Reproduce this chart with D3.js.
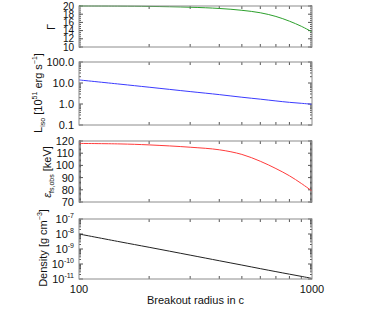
<!DOCTYPE html>
<html>
<head>
<meta charset="utf-8">
<script src="https://cdn.jsdelivr.net/npm/d3@7"></script>
<style>
body { margin: 0; background: #fff; }
text { font-family: "Liberation Sans", Arial, sans-serif; fill: #111; }
.frame { fill: none; stroke: #8c8c8c; stroke-width: 1; }
.tick { stroke: #555; stroke-width: 1; }
</style>
</head>
<body>
<div id="chart"></div>
<script>
var width = 391, height = 313;

// breakout radius (in c)
var radius = [100, 150, 200, 300, 400, 500, 600, 700, 800, 900, 1000];
var gammaVals = [20, 19.97, 19.9, 19.7, 19.4, 18.95, 18.35, 17.45, 16.3, 15.05, 13.7];
var lisoVals = [14, 8.8, 6.3, 3.9, 2.8, 2.1, 1.7, 1.4, 1.2, 1.08, 0.97];
var epsVals = [118, 117.6, 116.8, 114.9, 112.8, 109, 103.4, 97.4, 91.5, 85.2, 79];
var densVals = [1.0e-8, 3.0e-9, 1.3e-9, 3.9e-10, 1.65e-10, 8.5e-11, 4.9e-11, 3.1e-11, 2.1e-11, 1.5e-11, 1.1e-11];

var xTickLabels = [100, 1000];

var svg = d3.select("#chart").append("svg")
    .attr("width", width)
    .attr("height", height);

var x0 = 79, x1 = 312;
var x = d3.scaleLog().domain([100, 1000]).range([x0, x1]);

var panels = [
    {top: 6, bottom: 47, type: "lin", domain: [10, 20], major: d3.range(10, 21, 2), minor: d3.range(10, 20.01, 0.5),
     fmt: d3.format("d"), fs: 10, vals: gammaVals, color: "#2ca02c"},
    {top: 62, bottom: 125, type: "log", domain: [0.1, 100], major: [0.1, 1, 10, 100], fmt: d3.format(".1f"),
     fs: 11, vals: lisoVals, color: "#3b3bff"},
    {top: 141, bottom: 202, type: "lin", domain: [70, 120], major: d3.range(70, 121, 10), minor: d3.range(70, 120.01, 1),
     fmt: d3.format("d"), fs: 11, vals: epsVals, color: "#ff3b3b"},
    {top: 219, bottom: 279, type: "log", domain: [1e-11, 1e-7], major: [1e-11, 1e-10, 1e-9, 1e-8, 1e-7], fmt: null,
     fs: 11, vals: densVals, color: "#222"}
];

function logMinors(domain) {
    var out = [];
    var lo = Math.round(Math.log10(domain[0])), hi = Math.round(Math.log10(domain[1]));
    for (var e = lo; e < hi; e++) {
        for (var m = 2; m <= 9; m++) out.push(m * Math.pow(10, e));
    }
    return out;
}

var xMinor = [200, 300, 400, 500, 600, 700, 800, 900];

panels.forEach(function(p, i) {
    var y = (p.type == "log" ? d3.scaleLog() : d3.scaleLinear())
        .domain(p.domain).range([p.bottom, p.top]);
    var minor = p.type == "log" ? logMinors(p.domain) : p.minor;
    var g = svg.append("g");

    // y ticks, both sides, pointing inward
    minor.forEach(function(v) {
        g.append("line").attr("class", "tick")
            .attr("x1", x0).attr("x2", x0 + 2).attr("y1", y(v)).attr("y2", y(v));
        g.append("line").attr("class", "tick")
            .attr("x1", x1).attr("x2", x1 - 2).attr("y1", y(v)).attr("y2", y(v));
    });
    p.major.forEach(function(v) {
        g.append("line").attr("class", "tick")
            .attr("x1", x0).attr("x2", x0 + 4).attr("y1", y(v)).attr("y2", y(v));
        g.append("line").attr("class", "tick")
            .attr("x1", x1).attr("x2", x1 - 4).attr("y1", y(v)).attr("y2", y(v));
        var t = g.append("text")
            .attr("x", x0 - 5).attr("y", y(v) + p.fs * 0.36)
            .attr("text-anchor", "end")
            .style("font-size", p.fs + "px");
        if (p.fmt) {
            t.text(p.fmt(v));
        } else {
            t.text("10");
            t.append("tspan").attr("dy", -5).style("font-size", "7px").text(Math.round(Math.log10(v)));
        }
    });

    // x ticks top and bottom
    xMinor.forEach(function(v) {
        g.append("line").attr("class", "tick")
            .attr("x1", x(v)).attr("x2", x(v)).attr("y1", p.bottom).attr("y2", p.bottom - 3);
        g.append("line").attr("class", "tick")
            .attr("x1", x(v)).attr("x2", x(v)).attr("y1", p.top).attr("y2", p.top + 3);
    });

    var line = d3.line()
        .x(function(d, j) { return x(radius[j]); })
        .y(function(d) { return y(d); })
        .curve(d3.curveCatmullRom.alpha(0.5));

    g.append("path")
        .datum(p.vals)
        .attr("d", line)
        .attr("fill", "none")
        .attr("stroke", p.color)
        .attr("stroke-width", 1);

    g.append("rect").attr("class", "frame")
        .attr("x", x0).attr("y", p.top)
        .attr("width", x1 - x0).attr("height", p.bottom - p.top);
});

// x tick labels
xTickLabels.forEach(function(v) {
    svg.append("text")
        .attr("x", x(v)).attr("y", 293)
        .attr("text-anchor", "middle")
        .style("font-size", "11px")
        .text(v);
});

svg.append("text")
    .attr("x", (x0 + x1) / 2).attr("y", 304)
    .attr("text-anchor", "middle")
    .style("font-size", "11px")
    .text("Breakout radius in c");

// y axis titles
function yTitle(cx, cy) {
    return svg.append("text")
        .attr("transform", "translate(" + cx + "," + cy + ") rotate(-90)")
        .attr("text-anchor", "middle")
        .style("font-size", "11px");
}

yTitle(55, 27).text("Γ");

var t2 = yTitle(42, 93);
t2.append("tspan").text("L");
t2.append("tspan").attr("dy", 3).style("font-size", "7px").text("iso");
t2.append("tspan").attr("dy", -3).text(" [10");
t2.append("tspan").attr("dy", -5).style("font-size", "7px").text("51");
t2.append("tspan").attr("dy", 5).text(" erg s");
t2.append("tspan").attr("dy", -5).style("font-size", "7px").text("−1");
t2.append("tspan").attr("dy", 5).text("]");

var t3 = yTitle(51, 172);
t3.append("tspan").style("font-style", "italic").text("ε");
t3.append("tspan").attr("dy", 3).style("font-size", "7px").text("fs,obs");
t3.append("tspan").attr("dy", -3).text(" [keV]");

var t4 = yTitle(47, 248);
t4.append("tspan").text("Density [g cm");
t4.append("tspan").attr("dy", -5).style("font-size", "7px").text("−3");
t4.append("tspan").attr("dy", 5).text("]");
</script>
</body>
</html>
